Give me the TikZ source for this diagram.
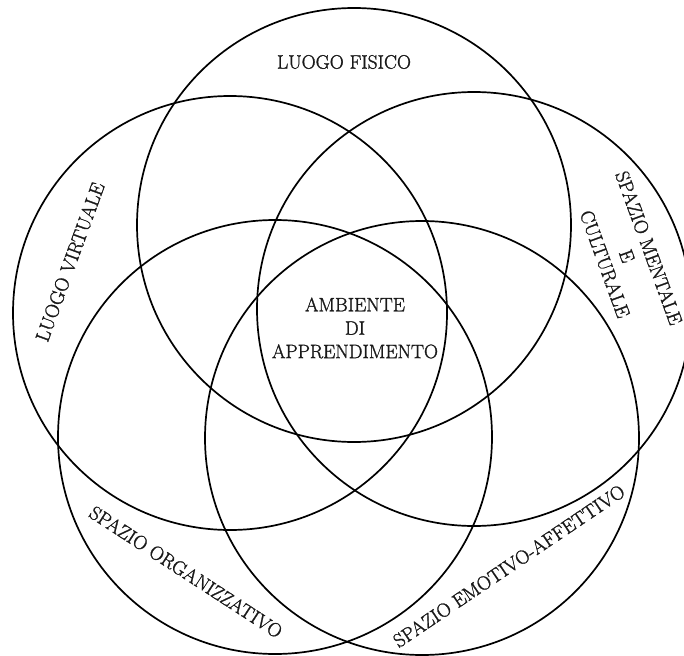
\documentclass[tikz,border=0pt]{standalone}
\usepackage{fontspec}
\newfontfamily\labfont{Latin Modern Roman}[FakeBold=1.3]
\begin{document}
\begin{tikzpicture}[x=1bp,y=-1bp,
  ring/.style={circle,draw=black,line width=1.7bp,minimum size=434bp,inner sep=0pt},
  lab/.style={font=\labfont\fontsize{19.5}{23.5}\selectfont,inner sep=0pt,align=center,text=black!90}]
\useasboundingbox (0,0) rectangle (684,656);
\node[ring] (fisico) at (354,225) {};
\node[ring] (virtuale) at (230,313) {};
\node[ring] (mentale) at (474,309) {};
\node[ring] (organizz) at (275,437) {};
\node[ring] (emotivo) at (422,438) {};
\node[lab] (tfisico) at (344,62) {LUOGO FISICO};
\node[lab] (tambiente) at (355,328) {AMBIENTE\\DI\\APPRENDIMENTO};
\node[lab,rotate=70] (tvirtuale) at (70,262) {LUOGO VIRTUALE};
\node[lab,rotate=-70] (tmentale) at (627,256) {SPAZIO MENTALE\\E\\CULTURALE};
\node[lab,rotate=-33] (torganizz) at (186,572) {SPAZIO ORGANIZZATIVO};
\node[lab,rotate=34] (temotivo) at (509,566) {SPAZIO EMOTIVO-AFFETTIVO};
\end{tikzpicture}
\end{document}
